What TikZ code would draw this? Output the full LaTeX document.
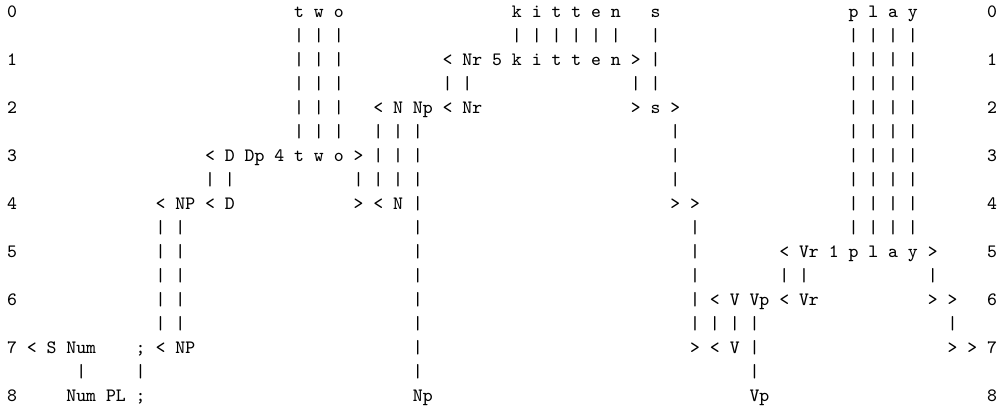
\documentclass[tikz,border=0pt]{standalone}
\begin{document}
\begin{tikzpicture}[x=4.95pt,y=-12pt]

      \useasboundingbox (-1.2121,-0.5) rectangle (99.798,16.583);

      \begin{scope}[every node/.style={font=\fontsize{9.43}{11}\selectfont\ttfamily,inner sep=0pt,anchor=base,yshift=-2.9pt}]

        % row numbers
        \foreach \r in {0,...,8} {
          \node (left\r)  at (0,2*\r)  {\r};
          \node (right\r) at (99,2*\r) {\r};
        }

        % words
        \foreach \c/\ch [count=\i] in {29/t,31/w,33/o} {
          \node (two0-\i) at (\c,0) {\ch};
          \node (two3-\i) at (\c,6) {\ch};
        }
        \foreach \c/\ch [count=\i] in {51/k,53/i,55/t,57/t,59/e,61/n} {
          \node (kitten0-\i) at (\c,0) {\ch};
          \node (kitten1-\i) at (\c,2) {\ch};
        }
        \foreach \c/\ch [count=\i] in {85/p,87/l,89/a,91/y} {
          \node (play0-\i) at (\c,0)  {\ch};
          \node (play5-\i) at (\c,10) {\ch};
        }
        \node (s0) at (65,0) {s};

        % row 1
        \node (open-Nr1)  at (44,2)   {<};
        \node (Nr1)       at (46.5,2) {Nr};
        \node (five)      at (49,2)   {5};
        \node (close-Nr1) at (63,2)   {>};

        % row 2
        \node (open-N2)   at (37,4)   {<};
        \node (N2)        at (39,4)   {N};
        \node (Np2)       at (41.5,4) {Np};
        \node (open-Nr2)  at (44,4)   {<};
        \node (Nr2)       at (46.5,4) {Nr};
        \node (close-Nr2) at (63,4)   {>};
        \node (s2)        at (65,4)   {s};
        \node (close-s2)  at (67,4)   {>};

        % row 3
        \node (open-D3)   at (20,6)   {<};
        \node (D3)        at (22,6)   {D};
        \node (Dp3)       at (24.5,6) {Dp};
        \node (four)      at (27,6)   {4};
        \node (close-D3)  at (35,6)   {>};

        % row 4
        \node (open-NP4)  at (15,8)   {<};
        \node (NP4)       at (17.5,8) {NP};
        \node (open-D4)   at (20,8)   {<};
        \node (D4)        at (22,8)   {D};
        \node (close-D4)  at (35,8)   {>};
        \node (open-N4)   at (37,8)   {<};
        \node (N4)        at (39,8)   {N};
        \node (close-s4)  at (67,8)   {>};
        \node (close-N4)  at (69,8)   {>};

        % row 5
        \node (open-Vr5)  at (78,10)   {<};
        \node (Vr5)       at (80.5,10) {Vr};
        \node (one)       at (83,10)   {1};
        \node (close-Vr5) at (93,10)   {>};

        % row 6
        \node (open-V6)   at (71,12)   {<};
        \node (V6)        at (73,12)   {V};
        \node (Vp6)       at (75.5,12) {Vp};
        \node (open-Vr6)  at (78,12)   {<};
        \node (Vr6)       at (80.5,12) {Vr};
        \node (close-Vr6) at (93,12)   {>};
        \node (close-y6)  at (95,12)   {>};

        % row 7
        \node (open-S)    at (2,14)    {<};
        \node (S)         at (4,14)    {S};
        \node (Num7)      at (7,14)    {Num};
        \node (semi7)     at (13,14)   {;};
        \node (open-NP7)  at (15,14)   {<};
        \node (NP7)       at (17.5,14) {NP};
        \node (close-N7)  at (69,14)   {>};
        \node (open-V7)   at (71,14)   {<};
        \node (V7)        at (73,14)   {V};
        \node (close-V7)  at (95,14)   {>};
        \node (close-S)   at (97,14)   {>};

        % row 8
        \node (Num8)      at (7,16)    {Num};
        \node (PL)        at (10.5,16) {PL};
        \node (semi8)     at (13,16)   {;};
        \node (Np8)       at (41.5,16) {Np};
        \node (Vp8)       at (75.5,16) {Vp};

        % bars: column / first line / last line
        \foreach \c/\a/\b in {29/1/5, 31/1/5, 33/1/5,
                              51/1/1, 53/1/1, 55/1/1, 57/1/1, 59/1/1, 61/1/1,
                              65/1/3, 85/1/9, 87/1/9, 89/1/9, 91/1/9,
                              44/3/3, 46/3/3, 63/3/3,
                              37/5/7, 39/5/7, 41/5/15, 67/5/7,
                              20/7/7, 22/7/7, 35/7/7,
                              15/9/13, 17/9/13, 69/9/13,
                              78/11/11, 80/11/11, 93/11/11,
                              71/13/13, 73/13/13, 75/13/15, 95/13/13,
                              7/15/15, 13/15/15} {
          \foreach \k in {\a,...,\b}
            \node (bar\c-\k) at (\c,\k) {|};
        }

      \end{scope}

    \end{tikzpicture}
\end{document}
